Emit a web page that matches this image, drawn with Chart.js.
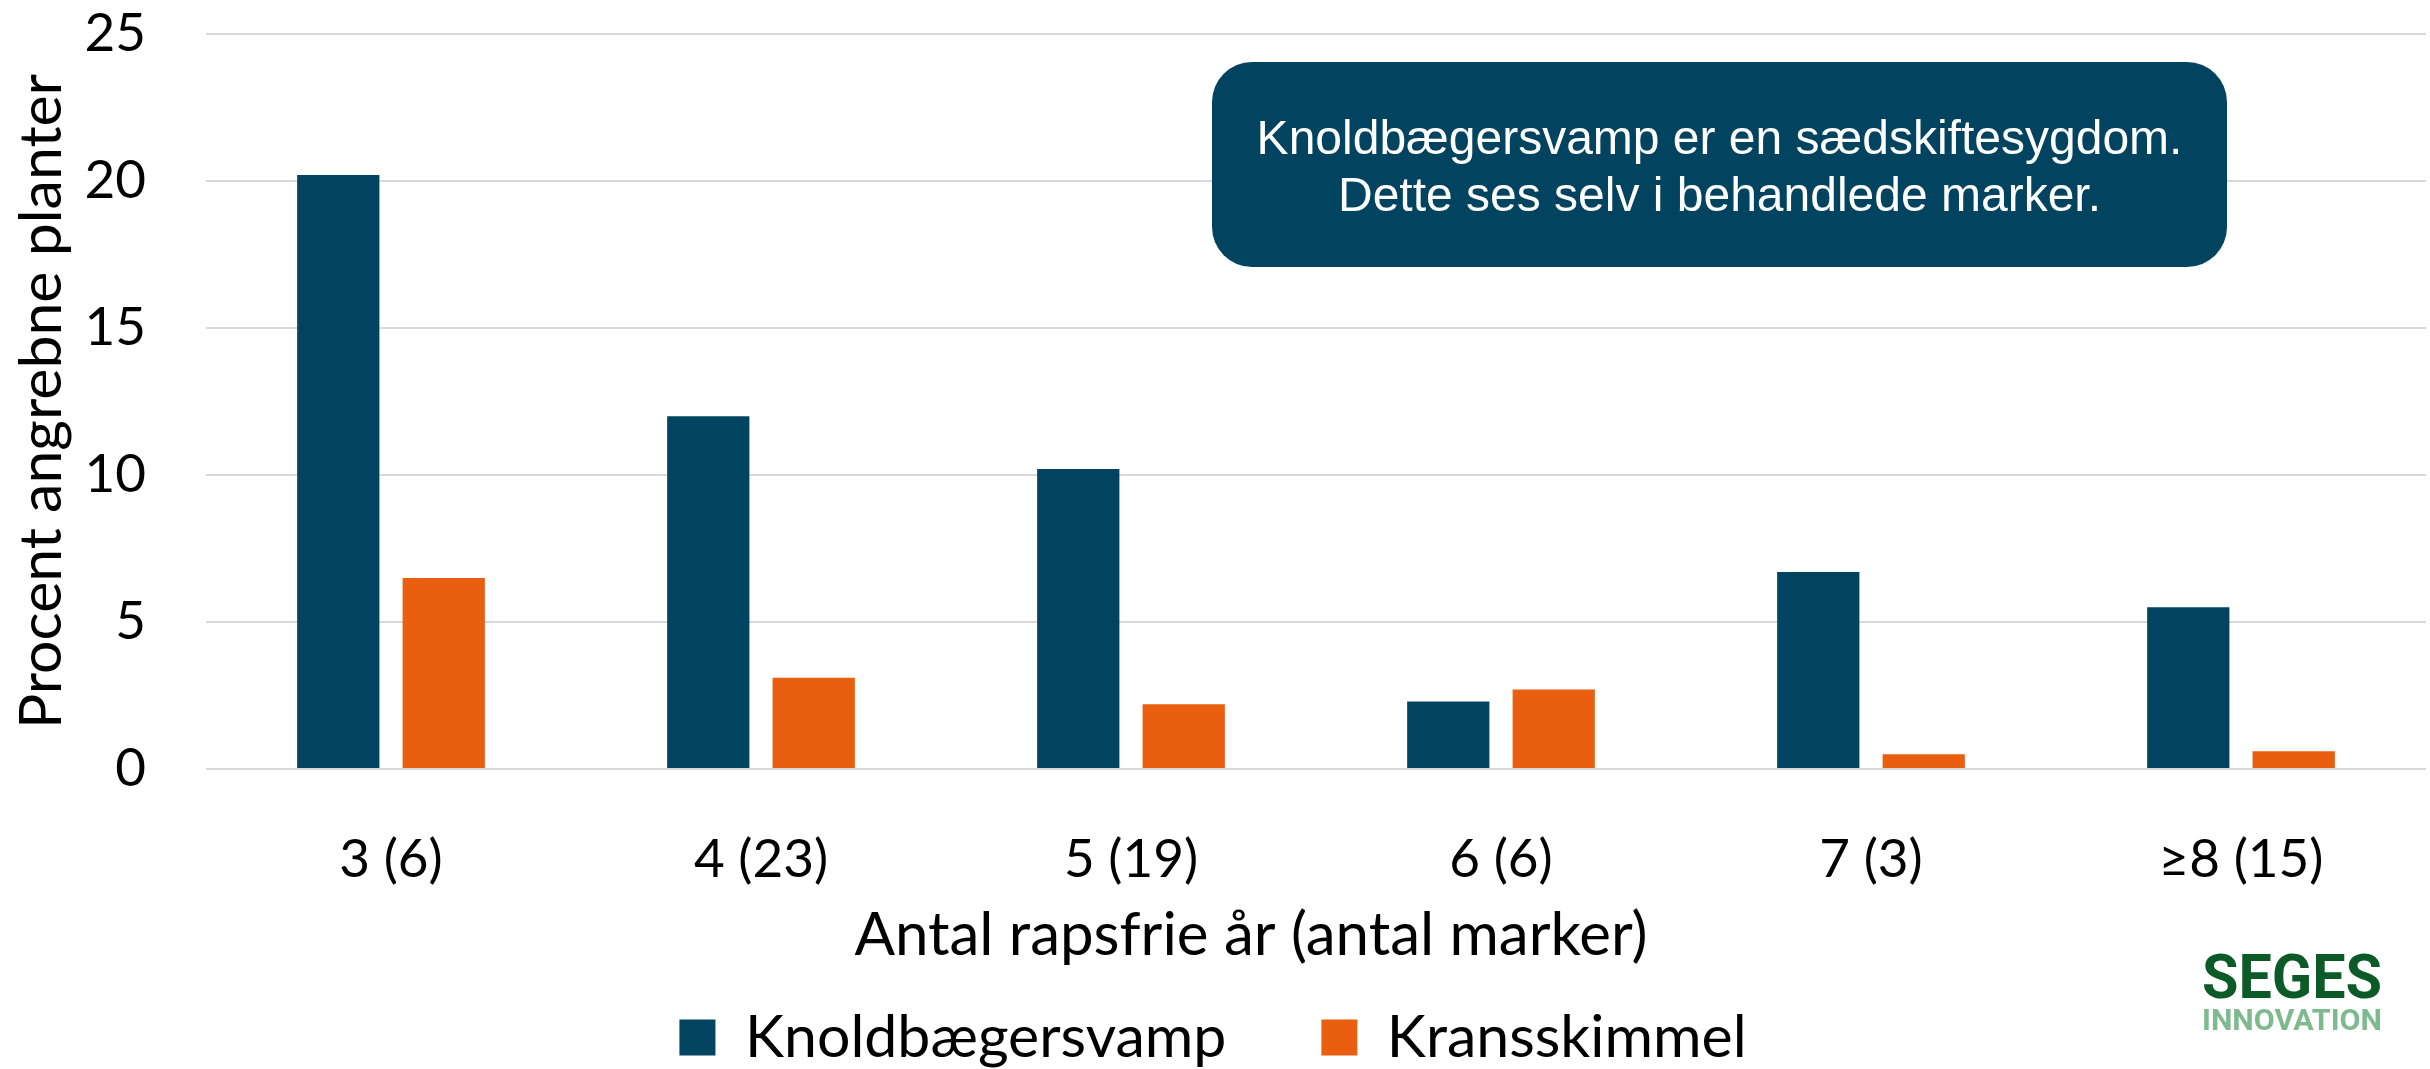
<!DOCTYPE html>
<html>
<head>
<meta charset="utf-8">
<script src="https://cdn.jsdelivr.net/npm/chart.js@4.4.1/dist/chart.umd.min.js"></script>
<style>
  html, body { margin: 0; padding: 0; background: #ffffff; }
  #wrap { width: 2430px; height: 1069px; }
</style>
</head>
<body>
<div id="wrap"><canvas id="c" width="2430" height="1069"></canvas></div>
<script>
// ---- data ----
const categories = ['3 (6)', '4 (23)', '5 (19)', '6 (6)', '7 (3)', '\u22658 (15)'];
const seriesNames = ['Knoldbægersvamp', 'Kransskimmel'];
const knoldbaegersvamp = [20.2, 12.0, 10.2, 2.3, 6.7, 5.5];
const kransskimmel = [6.5, 3.1, 2.2, 2.7, 0.5, 0.6];
const yTicks = [0, 5, 10, 15, 20, 25];
const yTitle = 'Procent angrebne planter';
const xTitle = 'Antal rapsfrie år (antal marker)';
const noteLines = ['Knoldbægersvamp er en sædskiftesygdom.', 'Dette ses selv i behandlede marker.'];
const logoLines = ['SEGES', 'INNOVATION'];

// ---- style ----
const BLUE = '#02445f';
const ORANGE = '#e95e0f';
const GRID = '#d9d9d9';
const FONT = 'Lato, "Noto Sans", sans-serif';

const overlay = {
  id: 'overlay',
  afterDraw(chart) {
    const ctx = chart.ctx;
    const area = chart.chartArea;
    ctx.save();
    // x axis title (sits a little left of the plot centre, as in the original)
    ctx.fillStyle = '#000';
    ctx.font = '60px ' + FONT;
    ctx.textAlign = 'center';
    ctx.textBaseline = 'middle';
    ctx.fillText(xTitle, (area.left + area.right) / 2 - 65, 936);

    // note box
    const bx = 1212, by = 62, bw = 1015, bh = 205, r = 40;
    ctx.fillStyle = BLUE;
    ctx.beginPath();
    ctx.moveTo(bx + r, by);
    ctx.lineTo(bx + bw - r, by);
    ctx.arcTo(bx + bw, by, bx + bw, by + r, r);
    ctx.lineTo(bx + bw, by + bh - r);
    ctx.arcTo(bx + bw, by + bh, bx + bw - r, by + bh, r);
    ctx.lineTo(bx + r, by + bh);
    ctx.arcTo(bx, by + bh, bx, by + bh - r, r);
    ctx.lineTo(bx, by + r);
    ctx.arcTo(bx, by, bx + r, by, r);
    ctx.closePath();
    ctx.fill();
    ctx.fillStyle = '#ffffff';
    ctx.font = '48px "Liberation Sans", Arial, sans-serif';
    ctx.fillText(noteLines[0], bx + bw / 2, 141);
    ctx.fillText(noteLines[1], bx + bw / 2, 198);

    // logo
    ctx.textAlign = 'left';
    ctx.textBaseline = 'alphabetic';
    const drawFit = (txt, font, color, x, baseline, width) => {
      ctx.save();
      ctx.font = font;
      ctx.fillStyle = color;
      const w = ctx.measureText(txt).width;
      ctx.translate(x, baseline);
      ctx.scale(width / w, 1);
      ctx.fillText(txt, 0, 0);
      ctx.restore();
    };
    drawFit(logoLines[0], 'bold 62px Roboto, "Liberation Sans", sans-serif', '#0b5a28', 2202, 998, 180);
    drawFit(logoLines[1], 'bold 30px Roboto, "Liberation Sans", sans-serif', '#7fb98f', 2202, 1030, 180);
    ctx.restore();
  }
};

new Chart(document.getElementById('c'), {
  type: 'bar',
  data: {
    labels: categories,
    datasets: [
      { label: seriesNames[0], data: knoldbaegersvamp, backgroundColor: BLUE, borderWidth: 0,
        categoryPercentage: 0.57, barPercentage: 0.78 },
      { label: seriesNames[1], data: kransskimmel, backgroundColor: ORANGE, borderWidth: 0,
        categoryPercentage: 0.57, barPercentage: 0.78 }
    ]
  },
  options: {
    responsive: false,
    animation: false,
    devicePixelRatio: 1,
    layout: { padding: { top: 34, right: 4, left: 0, bottom: 0 } },
    plugins: {
      tooltip: { enabled: false },
      legend: {
        position: 'bottom',
        maxHeight: 156,
        labels: {
          boxWidth: 36, boxHeight: 36, padding: 95,
          color: '#000', font: { family: FONT, size: 59 }
        }
      }
    },
    scales: {
      x: {
        grid: { display: false },
        border: { display: false },
        ticks: { color: '#000', font: { family: FONT, size: 53 }, padding: 51, maxRotation: 0 },
        afterFit(s) { s.height = 144; }
      },
      y: {
        min: 0, max: 25,
        afterBuildTicks(s) { s.ticks = yTicks.map(v => ({ value: v })); },
        grid: { color: GRID, lineWidth: 2, drawTicks: false },
        border: { display: false },
        ticks: { color: '#000', font: { family: FONT, size: 53 }, padding: 60 },
        title: { display: true, text: yTitle, color: '#000', font: { family: FONT, size: 59 }, padding: { top: 7, bottom: 0 } },
        afterFit(s) { s.width = 206; s.paddingTop = 0; s.paddingBottom = 0; }
      }
    }
  },
  plugins: [overlay]
});
</script>
</body>
</html>
